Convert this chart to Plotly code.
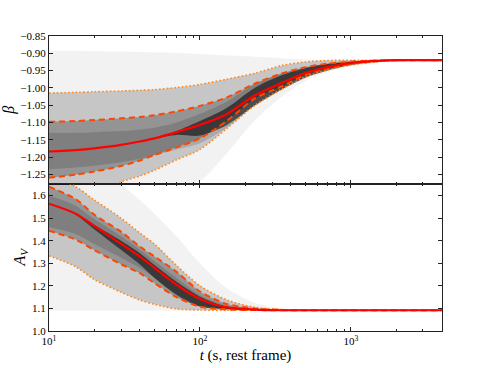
import plotly.graph_objects as go
from plotly.subplots import make_subplots

# time grid (s, rest frame)
t = [10, 15, 20, 30, 40, 50, 70, 100, 150, 230, 350, 500, 700, 1000, 1500, 2000, 4000]

# ---- beta panel ----
beta_med = [-1.184, -1.180, -1.175, -1.165, -1.155, -1.146, -1.128, -1.107, -1.076, -1.022, -0.985, -0.957, -0.940, -0.928, -0.922, -0.920, -0.920]
beta_q_hi = [-1.098, -1.096, -1.093, -1.088, -1.084, -1.079, -1.068, -1.052, -1.028, -0.988, -0.958, -0.940, -0.930, -0.924, -0.921, -0.920, -0.920]
beta_q_lo = [-1.260, -1.251, -1.242, -1.226, -1.210, -1.194, -1.172, -1.146, -1.096, -1.031, -0.995, -0.962, -0.944, -0.931, -0.923, -0.920, -0.920]
beta_o_hi = [-1.015, -1.013, -1.011, -1.009, -1.007, -1.005, -0.999, -0.990, -0.975, -0.958, -0.935, -0.925, -0.921, -0.920, -0.920, -0.920, -0.920]
beta_o_lo = [-1.360, -1.330, -1.305, -1.272, -1.255, -1.238, -1.208, -1.178, -1.118, -1.051, -1.003, -0.968, -0.948, -0.934, -0.924, -0.921, -0.920]
beta_env_hi = [-0.893, -0.893, -0.894, -0.895, -0.896, -0.897, -0.899, -0.902, -0.906, -0.910, -0.914, -0.917, -0.919, -0.920, -0.920, -0.920, -0.920]
beta_env_lo = [-1.400, -1.390, -1.380, -1.360, -1.340, -1.320, -1.290, -1.270, -1.190, -1.095, -1.025, -0.980, -0.955, -0.936, -0.925, -0.921, -0.920]
beta_c1_hi = [-1.130, -1.130, -1.128, -1.125, -1.120, -1.115, -1.100, -1.075, -1.040, -0.990, -0.958, -0.940, -0.930, -0.924, -0.921, -0.920, -0.920]
beta_c1_lo = [-1.235, -1.230, -1.225, -1.215, -1.205, -1.195, -1.178, -1.160, -1.115, -1.050, -1.003, -0.970, -0.949, -0.934, -0.924, -0.921, -0.920]
beta_c2_hi = [-1.184, -1.180, -1.175, -1.165, -1.155, -1.146, -1.125, -1.096, -1.058, -1.000, -0.963, -0.943, -0.931, -0.924, -0.921, -0.920, -0.920]
beta_c2_lo = [-1.184, -1.180, -1.175, -1.165, -1.155, -1.146, -1.136, -1.138, -1.108, -1.052, -1.005, -0.971, -0.950, -0.934, -0.924, -0.921, -0.920]

# ---- A_V panel ----
av_med = [1.564, 1.520, 1.465, 1.386, 1.330, 1.280, 1.205, 1.142, 1.105, 1.095, 1.092, 1.092, 1.092, 1.092, 1.092, 1.092, 1.092]
av_q_hi = [1.639, 1.585, 1.515, 1.440, 1.374, 1.330, 1.262, 1.175, 1.120, 1.100, 1.093, 1.092, 1.092, 1.092, 1.092, 1.092, 1.092]
av_q_lo = [1.444, 1.405, 1.358, 1.296, 1.256, 1.212, 1.150, 1.108, 1.096, 1.093, 1.092, 1.092, 1.092, 1.092, 1.092, 1.092, 1.092]
av_o_hi = [1.700, 1.640, 1.580, 1.500, 1.434, 1.385, 1.290, 1.200, 1.138, 1.105, 1.095, 1.092, 1.092, 1.092, 1.092, 1.092, 1.092]
av_o_lo = [1.333, 1.285, 1.228, 1.172, 1.137, 1.118, 1.098, 1.093, 1.092, 1.092, 1.092, 1.092, 1.092, 1.092, 1.092, 1.092, 1.092]
av_env_hi = [1.800, 1.760, 1.720, 1.650, 1.580, 1.520, 1.420, 1.300, 1.190, 1.125, 1.100, 1.094, 1.092, 1.092, 1.092, 1.092, 1.092]
av_env_lo = [1.090, 1.090, 1.090, 1.090, 1.090, 1.090, 1.090, 1.090, 1.090, 1.090, 1.090, 1.090, 1.090, 1.090, 1.090, 1.090, 1.090]
av_c1_hi = [1.600, 1.555, 1.495, 1.420, 1.360, 1.310, 1.235, 1.160, 1.112, 1.097, 1.093, 1.092, 1.092, 1.092, 1.092, 1.092, 1.092]
av_c1_lo = [1.460, 1.430, 1.385, 1.325, 1.280, 1.235, 1.165, 1.112, 1.097, 1.093, 1.092, 1.092, 1.092, 1.092, 1.092, 1.092, 1.092]
av_c2_hi = [1.564, 1.520, 1.470, 1.400, 1.345, 1.292, 1.218, 1.152, 1.108, 1.096, 1.092, 1.092, 1.092, 1.092, 1.092, 1.092, 1.092]
av_c2_lo = [1.564, 1.515, 1.450, 1.360, 1.295, 1.235, 1.160, 1.108, 1.096, 1.093, 1.092, 1.092, 1.092, 1.092, 1.092, 1.092, 1.092]

# tick definitions
x_major = [10, 100, 1000]
x_major_text = ["10<sup>1</sup>", "10<sup>2</sup>", "10<sup>3</sup>"]
x_minor = [20, 30, 40, 50, 60, 70, 80, 90, 200, 300, 400, 500, 600, 700, 800, 900, 2000, 3000, 4000]

FONT = "Liberation Serif"
RED = "#ff0000"
DASHC = "#ff4500"
DOTC = "#ff8a1e"

fig = make_subplots(rows=2, cols=1, shared_xaxes=True, vertical_spacing=0)


def band(lo, hi, alpha, row):
    fig.add_trace(go.Scatter(x=t, y=lo, mode="lines", line=dict(width=0, shape="spline", smoothing=0.8),
                             hoverinfo="skip", showlegend=False), row=row, col=1)
    fig.add_trace(go.Scatter(x=t, y=hi, mode="lines", line=dict(width=0, shape="spline", smoothing=0.8),
                             fill="tonexty", fillcolor=f"rgba(0,0,0,{alpha})",
                             hoverinfo="skip", showlegend=False), row=row, col=1)


def lines(med, qlo, qhi, olo, ohi, row):
    for y in (olo, ohi):
        fig.add_trace(go.Scatter(x=t, y=y, mode="lines",
                                 line=dict(color=DOTC, width=1.6, dash="1.6px,2.2px", shape="spline", smoothing=0.8),
                                 hoverinfo="skip", showlegend=False), row=row, col=1)
    for y in (qlo, qhi):
        fig.add_trace(go.Scatter(x=t, y=y, mode="lines",
                                 line=dict(color=DASHC, width=2, dash="6px,4px", shape="spline", smoothing=0.8),
                                 hoverinfo="skip", showlegend=False), row=row, col=1)
    fig.add_trace(go.Scatter(x=t, y=med, mode="lines",
                             line=dict(color=RED, width=2.2, shape="spline", smoothing=0.8),
                             hoverinfo="skip", showlegend=False), row=row, col=1)


for row, d in ((1, (beta_env_lo, beta_env_hi, beta_o_lo, beta_o_hi, beta_q_lo, beta_q_hi,
                     beta_c1_lo, beta_c1_hi, beta_c2_lo, beta_c2_hi, beta_med)),
               (2, (av_env_lo, av_env_hi, av_o_lo, av_o_hi, av_q_lo, av_q_hi,
                    av_c1_lo, av_c1_hi, av_c2_lo, av_c2_hi, av_med))):
    elo, ehi, olo, ohi, qlo, qhi, c1lo, c1hi, c2lo, c2hi, med = d
    band(elo, ehi, 0.05, row)
    band(olo, ohi, 0.18, row)
    band(qlo, qhi, 0.25, row)
    band(c1lo, c1hi, 0.14, row)
    band(c2lo, c2hi, 0.55, row)
    lines(med, qlo, qhi, olo, ohi, row)

axis_common = dict(showline=True, linecolor="#222222", linewidth=1, mirror="ticks",
                   ticks="inside", ticklen=4, tickwidth=1, tickcolor="#222222",
                   showgrid=False, zeroline=False,
                   tickfont=dict(family=FONT, size=11, color="black"))

for r in (1, 2):
    fig.update_xaxes(type="log", range=[1, 3.603], tickmode="array", tickvals=x_major,
                     ticktext=x_major_text,
                     minor=dict(ticks="inside", ticklen=2, tickcolor="#222222", tickmode="array",
                                tickvals=x_minor, showgrid=False),
                     row=r, col=1, **axis_common)
fig.update_xaxes(showticklabels=False, row=1, col=1)
fig.update_xaxes(ticklabelstandoff=0,
                 title=dict(text="<i>t</i> (s, rest frame)", font=dict(family=FONT, size=15, color="black"),
                            standoff=0), row=2, col=1)

fig.update_yaxes(range=[-1.2765, -0.85], tickmode="linear", tick0=-0.85, dtick=0.05, tickformat=".2f",
                 title=dict(text="<i>β</i>", font=dict(family=FONT, size=16, color="black"), standoff=6),
                 row=1, col=1, **axis_common)
fig.update_yaxes(range=[1.0, 1.6535], tickmode="linear", tick0=1.0, dtick=0.1, tickformat=".1f",
                 title=dict(text="<i>A</i><sub><i>V</i></sub>", font=dict(family=FONT, size=16, color="black"),
                            standoff=2),
                 row=2, col=1, **axis_common)

fig.update_layout(width=491, height=368, margin=dict(l=49, r=49, t=36, b=37, autoexpand=False),
                  paper_bgcolor="white", plot_bgcolor="white", showlegend=False,
                  font=dict(family=FONT, color="black"))

fig.write_html("out.html", config={"displayModeBar": False},
               post_script="document.body.style.margin='0';document.body.style.overflow='hidden';")
